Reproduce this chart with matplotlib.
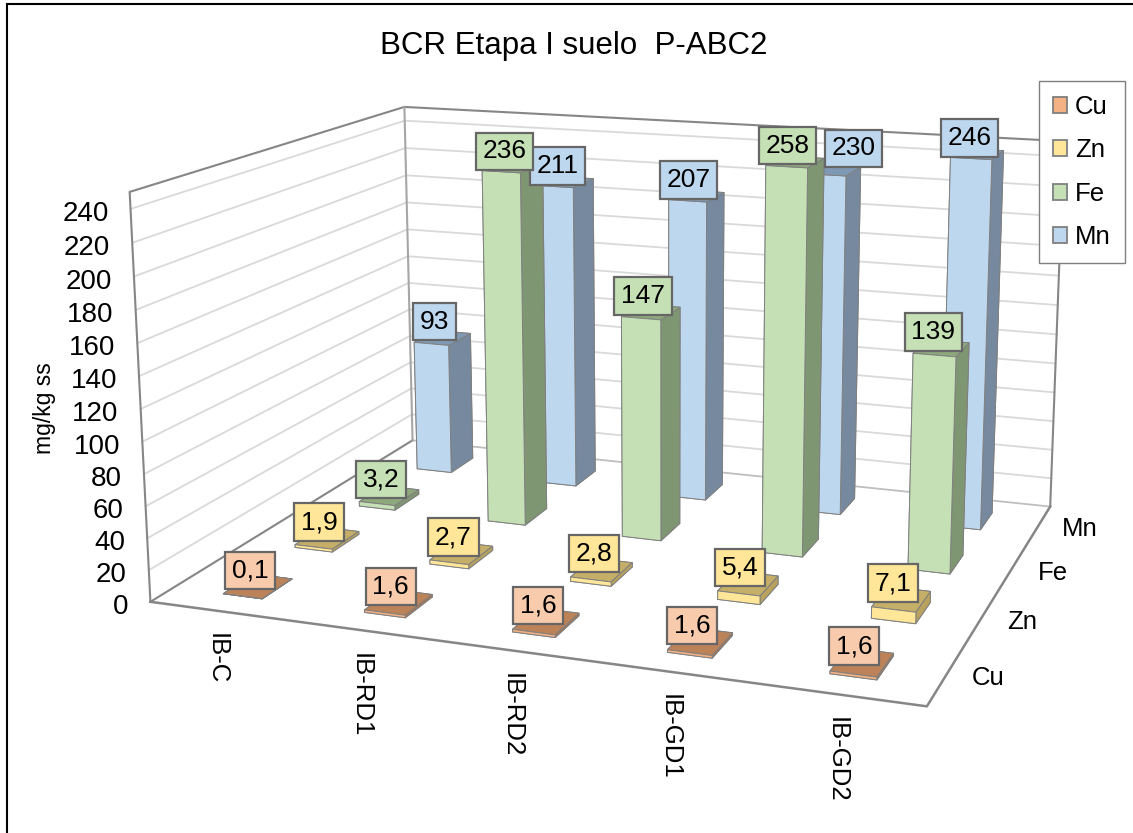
import numpy as np
import matplotlib
matplotlib.use('Agg')
import matplotlib.pyplot as plt
from matplotlib.patches import Patch, Rectangle
from mpl_toolkits.mplot3d import Axes3D  # noqa: F401

categories = ['IB-C', 'IB-RD1', 'IB-RD2', 'IB-GD1', 'IB-GD2']
series_names = ['Cu', 'Zn', 'Fe', 'Mn']
cu = [0.1, 1.6, 1.6, 1.6, 1.6]
zn = [1.9, 2.7, 2.8, 5.4, 7.1]
fe = [3.2, 236, 147, 258, 139]
mn = [93, 211, 207, 230, 246]
z_ticks = list(range(0, 241, 20))

W, H = 1133, 833
Z_MAX = 250
BAR_W = 0.28
BAR_D = 0.41

# face colours: front, top, side, data label box
palette = {
    'Cu': ('#F4B183', '#BC8258', '#A8754F', '#F8CBAD'),
    'Zn': ('#FFE699', '#C4AE68', '#B8A25E', '#FFE699'),
    'Fe': ('#C5E0B4', '#8DA97C', '#7F9673', '#C5E0B4'),
    'Mn': ('#BDD7EE', '#7F99B5', '#76899F', '#BDD7EE'),
}

plt.rcParams['font.family'] = ['Liberation Sans', 'DejaVu Sans']

# box corners in data units and where the camera puts them, in pixels from top left
box_points = np.array([
    [0, 0, 0], [5, 0, 0], [5, 4, 0], [0, 4, 0],
    [0, 0, Z_MAX], [0, 4, Z_MAX], [5, 4, Z_MAX],
], dtype=float)
box_pixels = np.array([
    [150, 602], [927, 706], [1050, 507], [413, 440],
    [130, 192], [404, 107], [1064, 141],
], dtype=float)


def fit_camera(points, targets):
    """Least squares 3x4 projective camera, with the last coefficient fixed to 1."""
    rows, rhs = [], []
    for (x, y, z), (u, v) in zip(points, targets):
        rows.append([x, y, z, 1, 0, 0, 0, 0, -u * x, -u * y, -u * z])
        rows.append([0, 0, 0, 0, x, y, z, 1, -v * x, -v * y, -v * z])
        rhs += [u, v]
    coef = np.linalg.lstsq(np.array(rows), np.array(rhs), rcond=None)[0]
    return np.append(coef, 1).reshape(3, 4)


fig = plt.figure(figsize=(W / 100, H / 100), dpi=100, facecolor='white')
side = W / H
ax = fig.add_axes([0, (1 - side) / 2, 1, side], projection='3d', computed_zorder=False)
ax.set_axis_off()
ax.patch.set_visible(False)

pixel_camera = fit_camera(box_points, box_pixels)


def camera_matrix():
    display = np.column_stack([box_pixels[:, 0], H - box_pixels[:, 1]])
    view = ax.transData.inverted().transform(display)
    cam = fit_camera(box_points, view)
    # depth row gives -1/w, so farther points get larger values
    return np.array([cam[0], cam[1], [0, 0, 0, -1], cam[2]])


ax.get_proj = camera_matrix


def put_text(x, y, z, s, dx=0, dy=0, **kw):
    """Text at a data point, moved by dx, dy pixels (dy counts downward)."""
    u, v, w = pixel_camera @ np.array([x, y, z, 1.0])
    kw.setdefault('color', 'black')
    return fig.text((u / w + dx) / W, 1 - (v / w + dy) / H, s, **kw)


# walls, gridlines and floor outline
GRID = '#D9D9D9'
EDGE = '#868686'
for z in z_ticks[1:]:
    ax.plot([0, 0, 5], [0, 4, 4], [z, z, z], color=GRID, lw=1.3, zorder=1)
ax.plot([0, 5], [4, 4], [0, 0], color='#BFBFBF', lw=1.3, zorder=1)
ax.plot([0, 0], [0, 4], [0, 0], color=EDGE, lw=1.5, zorder=1)
ax.plot([0, 0, 0, 5, 5], [0, 0, 4, 4, 4], [0, Z_MAX, Z_MAX, Z_MAX, 0], color=EDGE, lw=1.5, zorder=1)
ax.plot([0, 0], [4, 4], [0, Z_MAX], color='#A6A6A6', lw=1.5, zorder=1)
ax.plot([0, 5, 5], [0, 0, 4], [0, 0, 0], color=EDGE, lw=1.8, zorder=2)

# the 230 label sits further right, clear of the 258 one
label_nudge = {(3, 3): (20, -22)}
values = [cu, zn, fe, mn]
for j, (name, vals) in reversed(list(enumerate(zip(series_names, values)))):
    front, top, sidec, box = palette[name]
    # bottom, top, front, back, left, right
    faces = [top, top, front, sidec, sidec, sidec]
    for i, v in enumerate(vals):
        # columns stop at the top of the value axis
        h = min(v, Z_MAX)
        ax.bar3d(i + 0.5 - BAR_W / 2, j + 0.5 - BAR_D / 2, 0, BAR_W, BAR_D, h,
                 color=faces, shade=False, edgecolor='#808080', linewidth=0.7,
                 zorder=10 + 10 * (3 - j) + i)
        dx, dy = label_nudge.get((i, j), (-8, -16))
        put_text(i + 0.5, j + 0.5, h, f'{v:g}'.replace('.', ','),
                 dx=dx, dy=dy, ha='center', va='center', fontsize=19,
                 bbox=dict(boxstyle='square,pad=0.25', fc=box, ec='#666666', lw=1.6))

# value axis labels
for z in z_ticks:
    put_text(0, 0, z, str(z), dx=-22, dy=5, ha='right', va='center', fontsize=20)

# category labels under the front edge
for i, cat in enumerate(categories):
    put_text(i + 0.5, 0, 0, cat, dx=-4, dy=22, rotation=270, ha='center', va='top',
             fontsize=18.5)

# series labels beside the right floor edge
for j, name in enumerate(series_names):
    put_text(5, j + 0.5, 0, name, dx=42, dy=2, ha='center', va='center', fontsize=18.5)

fig.text(574 / W, 1 - 46 / H, 'BCR Etapa I suelo  P-ABC2', ha='center', va='center',
         fontsize=22.5, color='black')
fig.text(45 / W, 1 - 408 / H, 'mg/kg ss', rotation=90, ha='center', va='center',
         fontsize=16.5, color='black')

handles = [Patch(facecolor=palette[n][0], edgecolor='#7F7F7F', linewidth=1.3, label=n)
           for n in series_names]
fig.legend(handles=handles, loc='upper right', bbox_to_anchor=(1125 / W, 1 - 81 / H),
           fontsize=18.5, frameon=True, fancybox=False, framealpha=1, edgecolor='#7F7F7F',
           handlelength=0.57, handleheight=0.57, handletextpad=0.3, labelspacing=0.75,
           borderpad=0.55, borderaxespad=0)

fig.add_artist(Rectangle((7 / W, -0.01), (W - 7) / W + 0.01, 1 + 0.01 - 4 / H, fill=False,
                         edgecolor='black', linewidth=1.5, transform=fig.transFigure))

fig.savefig('out.png', dpi=100)
